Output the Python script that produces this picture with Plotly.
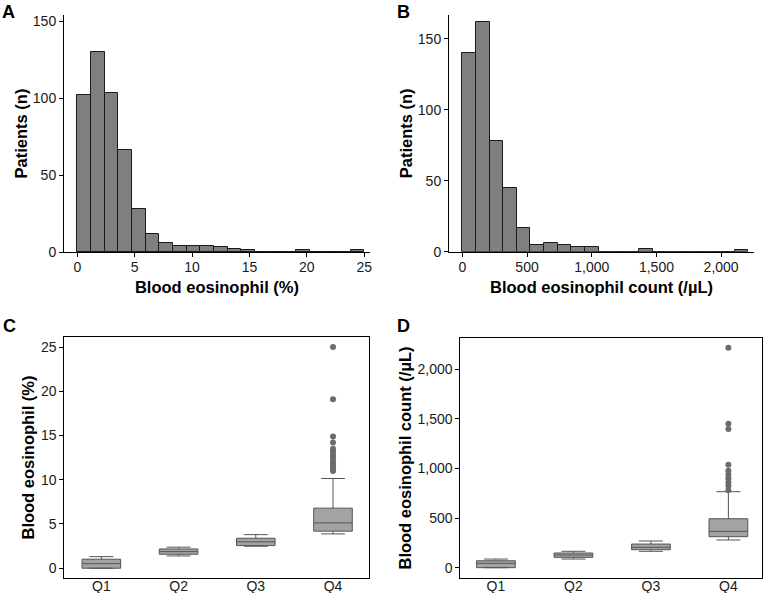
import plotly.graph_objects as go

# ---------------- data ----------------
# Panel A: histogram of blood eosinophil (%)
pct_bin_start = 0.0
pct_bin_width = 25.0 / 21
pct_counts = [102, 130, 103, 66, 28, 12, 6, 4, 4, 4, 3, 2, 1, 0, 0, 0, 1, 0, 0, 0, 1]

# Panel B: histogram of blood eosinophil count (/µL)
cnt_bin_start = 0.0
cnt_bin_width = 105.3
cnt_counts = [140, 162, 78, 45, 17, 5, 6, 5, 3, 3, 0, 0, 0, 2, 0, 0, 0, 0, 0, 0, 1]

quartiles = ["Q1", "Q2", "Q3", "Q4"]

# Panel C: box stats by quartile (%)
pct_low = [0.0, 1.39, 2.49, 3.88]
pct_q1 = [0.0, 1.58, 2.56, 4.19]
pct_med = [0.52, 1.88, 2.98, 5.12]
pct_q3 = [1.02, 2.18, 3.39, 6.79]
pct_high = [1.31, 2.38, 3.80, 10.14]
pct_outliers_q4 = [25.0, 19.1, 14.9, 14.2, 13.5, 13.2, 12.8, 12.5, 12.1, 11.8, 11.5, 11.2, 11.0]

# Panel D: box stats by quartile (/µL)
cnt_low = [0, 87, 165, 279]
cnt_q1 = [0, 104, 181, 312]
cnt_med = [44, 128, 205, 366]
cnt_q3 = [70, 148, 238, 493]
cnt_high = [87, 165, 269, 765]
cnt_outliers_q4 = [2215, 1450, 1395, 1035, 975, 935, 900, 860, 825, 780]

# ---------------- figure ----------------
FONT = "Liberation Sans, Arial, sans-serif"
TICK_FONT = dict(family=FONT, size=14, color="#1a1a1a")
TITLE_FONT = dict(family=FONT, size=16.5, color="black")

fig = go.Figure()

def hist_trace(start, width, counts, xa, ya):
    centers = [start + width * (i + 0.5) for i in range(len(counts))]
    return go.Bar(x=centers, y=counts, width=[width] * len(counts),
                  marker=dict(color="#7f7f7f", line=dict(color="#1a1a1a", width=1)),
                  xaxis=xa, yaxis=ya, showlegend=False, hoverinfo="x+y")

fig.add_trace(hist_trace(pct_bin_start, pct_bin_width, pct_counts, "x", "y"))
fig.add_trace(hist_trace(cnt_bin_start, cnt_bin_width, cnt_counts, "x2", "y2"))

def box_traces(low, q1, med, q3, high, outliers, xa, ya):
    tr = []
    for i, q in enumerate(quartiles):
        tr.append(go.Box(x=[q], q1=[q1[i]], median=[med[i]], q3=[q3[i]],
                         lowerfence=[low[i]], upperfence=[high[i]],
                         width=0.5, whiskerwidth=0.62,
                         fillcolor="#a3a3a3", line=dict(color="#555555", width=1),
                         boxpoints=False, xaxis=xa, yaxis=ya, showlegend=False))
    tr.append(go.Scatter(x=["Q4"] * len(outliers), y=outliers, mode="markers",
                         marker=dict(color="#6b6b6b", size=6),
                         xaxis=xa, yaxis=ya, showlegend=False))
    return tr

for t in box_traces(pct_low, pct_q1, pct_med, pct_q3, pct_high, pct_outliers_q4, "x3", "y3"):
    fig.add_trace(t)
for t in box_traces(cnt_low, cnt_q1, cnt_med, cnt_q3, cnt_high, cnt_outliers_q4, "x4", "y4"):
    fig.add_trace(t)

W, H = 765, 593
def dx(a, b):
    return [a / W, b / W]
def dy(top, bottom):
    return [1 - bottom / H, 1 - top / H]

common = dict(showline=True, linecolor="black", linewidth=1, showgrid=False,
              zeroline=False, ticks="outside", ticklen=4, tickcolor="black",
              tickfont=TICK_FONT, title_font=TITLE_FONT)

fig.update_layout(
    width=W, height=H, margin=dict(l=0, r=0, t=0, b=0, autoexpand=False),
    paper_bgcolor="white", plot_bgcolor="white", bargap=0,
    xaxis=dict(domain=dx(64, 370), range=[-1.16, 25.5], tickvals=[0, 5, 10, 15, 20, 25],
               anchor="y", ticklabelstandoff=-2,
               title=dict(text="<b>Blood eosinophil (%)</b>", standoff=7), **common),
    yaxis=dict(domain=dy(15, 252), range=[0, 154], tickvals=[0, 50, 100, 150],
               anchor="x", title=dict(text="<b>Patients (n)</b>", standoff=1), **common),
    xaxis2=dict(domain=dx(449, 754), range=[-103, 2254], tickvals=[0, 500, 1000, 1500, 2000],
                tickformat=",d", anchor="y2", ticklabelstandoff=-2,
                title=dict(text="<b>Blood eosinophil count (/µL)</b>", standoff=7), **common),
    yaxis2=dict(domain=dy(15, 251.7), range=[0, 166.7], tickvals=[0, 50, 100, 150],
                anchor="x2", title=dict(text="<b>Patients (n)</b>", standoff=1), **common),
    xaxis3=dict(domain=dx(64.3, 369.3), range=[-0.48, 3.47], type="category",
                categoryorder="array", categoryarray=quartiles, anchor="y3",
                mirror=True, ticklabelstandoff=-5, **{**common, "ticks": ""}),
    yaxis3=dict(domain=dy(337.3, 577.7), range=[-1.07, 26.1], tickvals=[0, 5, 10, 15, 20, 25],
                anchor="x3", mirror=True,
                title=dict(text="<b>Blood eosinophil (%)</b>", standoff=2), **common),
    xaxis4=dict(domain=dx(460.3, 761.7), range=[-0.46, 3.43], type="category",
                categoryorder="array", categoryarray=quartiles, anchor="y4",
                mirror=True, ticklabelstandoff=-5, **{**common, "ticks": ""}),
    yaxis4=dict(domain=dy(338.3, 577.7), range=[-100.7, 2309], tickvals=[0, 500, 1000, 1500, 2000],
                tickformat=",d", anchor="x4", mirror=True,
                title=dict(text="<b>Blood eosinophil count (/µL)</b>", standoff=1), **common),
)

letter_font = dict(family=FONT, size=18, color="black")
for txt, x, y in [("A", 8.3, 1), ("B", 403.5, 1), ("C", 9.3, 314.5), ("D", 403.3, 314.5)]:
    fig.add_annotation(text=f"<b>{txt}</b>", x=x / W, y=1 - y / H, xref="paper", yref="paper",
                       xanchor="center", yanchor="top", borderpad=0, showarrow=False,
                       font=letter_font)

fig.write_html("out.html", config={"displayModeBar": False},
               post_script="document.body.style.margin='0';document.body.style.overflow='hidden';")
